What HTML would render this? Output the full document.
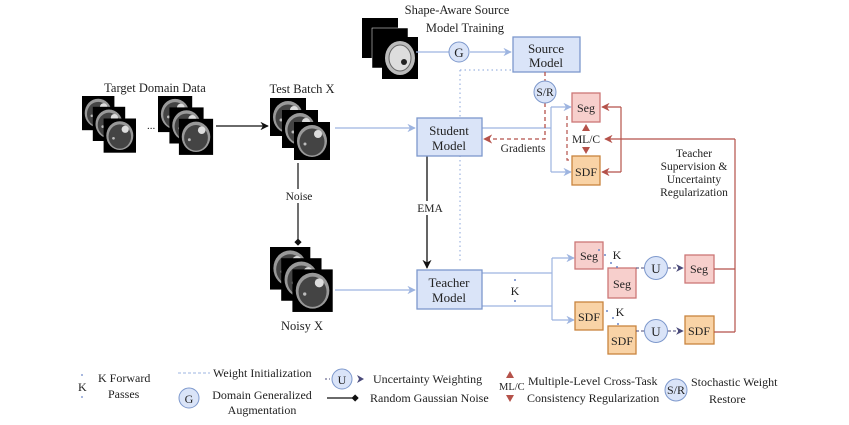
<!DOCTYPE html>
<html><head><meta charset="utf-8"><style>
body{margin:0;background:#fff}
svg{display:block;font-family:"Liberation Serif",serif}
text{fill:#222}
</style></head><body>
<svg width="849" height="425" viewBox="0 0 849 425" xmlns="http://www.w3.org/2000/svg">
<defs>
<marker id="ab" viewBox="0 0 10 10" refX="9" refY="5" markerWidth="7" markerHeight="7" orient="auto"><path d="M0,0L10,5L0,10L3,5z" fill="#9db4e0"/></marker>
<marker id="ak" viewBox="0 0 10 10" refX="9" refY="5" markerWidth="7" markerHeight="7" orient="auto"><path d="M0,0L10,5L0,10L3,5z" fill="#111"/></marker>
<marker id="ar" viewBox="0 0 10 10" refX="9" refY="5" markerWidth="7" markerHeight="7" orient="auto"><path d="M0,0L10,5L0,10L3,5z" fill="#b5524a"/></marker>
<marker id="ap" viewBox="0 0 10 10" refX="9" refY="5" markerWidth="7" markerHeight="7" orient="auto"><path d="M0,0L10,5L0,10L3,5z" fill="#4a4a7a"/></marker>
<marker id="ad" viewBox="0 0 10 10" refX="9" refY="5" markerWidth="6" markerHeight="6" orient="auto"><path d="M0,5L5,0L10,5L5,10z" fill="#111"/></marker>
<g id="mri"><rect width="36" height="38" fill="#000"/><ellipse cx="18" cy="19" rx="15" ry="16" fill="#999"/><ellipse cx="18" cy="20" rx="12.5" ry="13.5" fill="#444"/><circle cx="24" cy="12" r="4" fill="#ddd"/><circle cx="11" cy="22" r="1.5" fill="#bbb"/></g>
</defs>

<!-- image stacks -->
<g transform="translate(82,96) scale(0.9)"><use href="#mri"/><use href="#mri" x="12" y="12"/><use href="#mri" x="24" y="25"/></g>
<text x="147" y="129" font-size="11">...</text>
<g transform="translate(158,96) scale(0.95)"><use href="#mri"/><use href="#mri" x="12" y="12"/><use href="#mri" x="22" y="24"/></g>
<g transform="translate(270,98)"><use href="#mri"/><use href="#mri" x="12" y="12"/><use href="#mri" x="24" y="24"/></g>
<g transform="translate(270,247) scale(1.12)"><use href="#mri"/><use href="#mri" x="10" y="10"/><use href="#mri" x="20" y="20"/></g>
<g transform="translate(362,18)"><rect width="36" height="40" fill="#000"/><rect x="10" y="10" width="36" height="40" fill="#000" stroke="#fff" stroke-width="0.5"/><rect x="20" y="19" width="36" height="42" fill="#000"/><ellipse cx="38" cy="40" rx="15" ry="17" fill="#bbb"/><ellipse cx="38" cy="40" rx="11" ry="13" fill="#ddd" stroke="#666"/><circle cx="42" cy="44" r="3" fill="#222"/></g>

<text x="155" y="92" font-size="12.5" text-anchor="middle">Target Domain Data</text>
<text x="302" y="93" font-size="12.5" text-anchor="middle">Test Batch X</text>
<text x="302" y="330" font-size="12.5" text-anchor="middle">Noisy X</text>
<text x="457" y="14" font-size="12.5" text-anchor="middle">Shape-Aware Source</text>
<text x="465" y="32" font-size="12.5" text-anchor="middle">Model Training</text>

<!-- black lines -->
<line x1="216" y1="126" x2="268" y2="126" stroke="#111" stroke-width="1.2" marker-end="url(#ak)"/>
<line x1="298" y1="163" x2="298" y2="245" stroke="#111" stroke-width="1.2" marker-end="url(#ad)"/>
<rect x="284" y="189" width="30" height="14" fill="#fff"/>
<text x="299" y="200" font-size="11.5" text-anchor="middle">Noise</text>
<line x1="427" y1="156" x2="427" y2="268" stroke="#111" stroke-width="1.3" marker-end="url(#ak)"/>
<rect x="413" y="201" width="32" height="14" fill="#fff"/>
<text x="430" y="212" font-size="11.5" text-anchor="middle">EMA</text>

<!-- blue lines -->
<line x1="416" y1="52" x2="449" y2="52" stroke="#9db4e0" stroke-width="1.2"/>
<line x1="470" y1="52" x2="511" y2="52" stroke="#9db4e0" stroke-width="1.2" marker-end="url(#ab)"/>
<path d="M460,70 V262 M460,70 H513" stroke="#9db4e0" stroke-width="1.2" stroke-dasharray="1.5,3" fill="none"/>
<line x1="335" y1="128" x2="415" y2="128" stroke="#9db4e0" stroke-width="1.2" marker-end="url(#ab)"/>
<line x1="335" y1="290" x2="415" y2="290" stroke="#9db4e0" stroke-width="1.2" marker-end="url(#ab)"/>
<path d="M482,128 H551 M551,107 V172" stroke="#9db4e0" stroke-width="1.2" fill="none"/>
<line x1="551" y1="107" x2="571" y2="107" stroke="#9db4e0" stroke-width="1.2" marker-end="url(#ab)"/>
<line x1="551" y1="172" x2="571" y2="172" stroke="#9db4e0" stroke-width="1.2" marker-end="url(#ab)"/>
<path d="M482,273 H552 M482,306 H552 M552,258 V320" stroke="#9db4e0" stroke-width="1.2" fill="none"/>
<line x1="552" y1="258" x2="574" y2="258" stroke="#9db4e0" stroke-width="1.2" marker-end="url(#ab)"/>
<line x1="552" y1="320" x2="574" y2="320" stroke="#9db4e0" stroke-width="1.2" marker-end="url(#ab)"/>

<!-- boxes -->
<g stroke="#7d98cc" stroke-width="1.3" fill="#dae4f8">
<rect x="513" y="37" width="67" height="35"/>
<rect x="417" y="118" width="65" height="38"/>
<rect x="417" y="270" width="65" height="39"/>
</g>
<g font-size="13" text-anchor="middle">
<text x="546" y="53">Source</text><text x="546" y="67">Model</text>
<text x="449" y="135">Student</text><text x="449" y="150">Model</text>
<text x="449" y="287">Teacher</text><text x="449" y="302">Model</text>
</g>

<!-- red dashed -->
<path d="M545,72 V82 M545,103 V139 H484" stroke="#b5524a" stroke-width="1.3" stroke-dasharray="4,3" fill="none" marker-end="url(#ar)"/>
<path d="M567,116 V160 H572" stroke="#b5524a" stroke-width="1.2" stroke-dasharray="4,3" fill="none"/>
<text x="523" y="152" font-size="11.5" text-anchor="middle">Gradients</text>
<circle cx="545" cy="92" r="11" fill="#dae4f8" stroke="#7d98cc"/>
<text x="545" y="96" font-size="11.5" text-anchor="middle">S/R</text>
<circle cx="459" cy="52" r="10" fill="#dae4f8" stroke="#7d98cc"/>
<text x="459" y="57" font-size="13" text-anchor="middle">G</text>

<!-- seg/sdf -->
<g stroke-width="1.3">
<rect x="572" y="93" width="28" height="29" fill="#f7cfcc" stroke="#c77"/>
<rect x="572" y="156" width="28" height="29" fill="#f9d3a6" stroke="#c8843f"/>
<rect x="575" y="242" width="28" height="27" fill="#f7cfcc" stroke="#c77"/>
<rect x="608" y="268" width="28" height="30" fill="#f7cfcc" stroke="#c77"/>
<rect x="685" y="255" width="29" height="28" fill="#f7cfcc" stroke="#c77"/>
<rect x="575" y="302" width="28" height="28" fill="#f9d3a6" stroke="#c8843f"/>
<rect x="608" y="326" width="28" height="28" fill="#f9d3a6" stroke="#c8843f"/>
<rect x="685" y="316" width="29" height="28" fill="#f9d3a6" stroke="#c8843f"/>
</g>
<g font-size="12" text-anchor="middle">
<text x="586" y="112">Seg</text><text x="586" y="176">SDF</text>
<text x="589" y="260">Seg</text><text x="622" y="288">Seg</text><text x="699" y="273">Seg</text>
<text x="589" y="321">SDF</text><text x="622" y="345">SDF</text><text x="699" y="335">SDF</text>
</g>
<!-- ML/C -->
<text x="586" y="143" font-size="11.5" text-anchor="middle">ML/C</text>
<path d="M582,131 L586,124 L590,131z M582,147 L586,154 L590,147z" fill="#b5524a"/>

<!-- red lines -->
<path d="M621,107 V172" stroke="#b5524a" stroke-width="1.2" fill="none"/>
<line x1="621" y1="107" x2="602" y2="107" stroke="#b5524a" stroke-width="1.2" marker-end="url(#ar)"/>
<line x1="621" y1="172" x2="602" y2="172" stroke="#b5524a" stroke-width="1.2" marker-end="url(#ar)"/>
<line x1="735" y1="139" x2="605" y2="139" stroke="#b5524a" stroke-width="1.2" marker-end="url(#ar)"/>
<path d="M735,139 V332 M714,269 H735 M714,332 H735" stroke="#b5524a" stroke-width="1.2" fill="none"/>
<g font-size="11.5" text-anchor="middle">
<text x="694" y="157">Teacher</text><text x="694" y="170">Supervision &amp;</text><text x="694" y="183">Uncertainty</text><text x="694" y="196">Regularization</text>
</g>

<!-- K dots -->
<g fill="#6a86c8">
<circle cx="515" cy="280" r="1"/><circle cx="515" cy="301" r="1"/>
<circle cx="599" cy="250" r="1"/><circle cx="605" cy="255" r="1"/><circle cx="611" cy="263" r="1"/><circle cx="617" cy="267" r="1"/>
<circle cx="607" cy="311" r="1"/><circle cx="613" cy="318" r="1"/><circle cx="618" cy="324" r="1"/>
</g>
<text x="515" y="295" font-size="12" text-anchor="middle">K</text>
<text x="617" y="259" font-size="12" text-anchor="middle">K</text>
<text x="620" y="316" font-size="12" text-anchor="middle">K</text>

<!-- U -->
<path d="M636,268 H645 M668,268 H683" stroke="#4a4a7a" stroke-width="1.1" stroke-dasharray="3,2" fill="none" marker-end="url(#ap)"/>
<path d="M636,331 H645 M668,331 H683" stroke="#4a4a7a" stroke-width="1.1" stroke-dasharray="3,2" fill="none" marker-end="url(#ap)"/>
<circle cx="656" cy="268" r="11.5" fill="#dae4f8" stroke="#7d98cc"/>
<circle cx="656" cy="331" r="11.5" fill="#dae4f8" stroke="#7d98cc"/>
<text x="656" y="273" font-size="13" text-anchor="middle">U</text>
<text x="656" y="336" font-size="13" text-anchor="middle">U</text>

<!-- legend -->
<g font-size="12">
<circle cx="82" cy="375" r="0.9" fill="#6a86c8"/><circle cx="82" cy="397" r="0.9" fill="#6a86c8"/>
<text x="78" y="391">K</text>
<text x="98" y="382">K Forward</text><text x="108" y="398">Passes</text>
<line x1="178" y1="373" x2="210" y2="373" stroke="#9db4e0" stroke-dasharray="3,2"/>
<text x="213" y="377">Weight Initialization</text>
<circle cx="189" cy="398" r="10" fill="#dae4f8" stroke="#7d98cc"/><text x="189" y="403" text-anchor="middle">G</text>
<text x="262" y="399" text-anchor="middle">Domain Generalized</text><text x="262" y="414" text-anchor="middle">Augmentation</text>
<line x1="325" y1="379" x2="330" y2="379" stroke="#4a4a7a" stroke-dasharray="2,2"/>
<circle cx="342" cy="379" r="10" fill="#dae4f8" stroke="#7d98cc"/><text x="342" y="384" text-anchor="middle">U</text>
<path d="M357,375 L364,379 L357,383 L359,379z" fill="#4a4a7a"/>
<text x="373" y="383">Uncertainty Weighting</text>
<line x1="327" y1="398" x2="358" y2="398" stroke="#111" stroke-width="1.2" marker-end="url(#ad)"/>
<text x="370" y="402">Random Gaussian Noise</text>
<path d="M506,378 L510,371 L514,378z M506,395 L510,402 L514,395z" fill="#b5524a"/>
<text x="499" y="390" font-size="10.5">ML/C</text>
<text x="528" y="385">Multiple-Level Cross-Task</text>
<text x="527" y="402">Consistency Regularization</text>
<circle cx="676" cy="390" r="11" fill="#dae4f8" stroke="#7d98cc"/><text x="676" y="394" text-anchor="middle">S/R</text>
<text x="691" y="386">Stochastic Weight</text><text x="709" y="403">Restore</text>
</g>
</svg>
</body></html>
